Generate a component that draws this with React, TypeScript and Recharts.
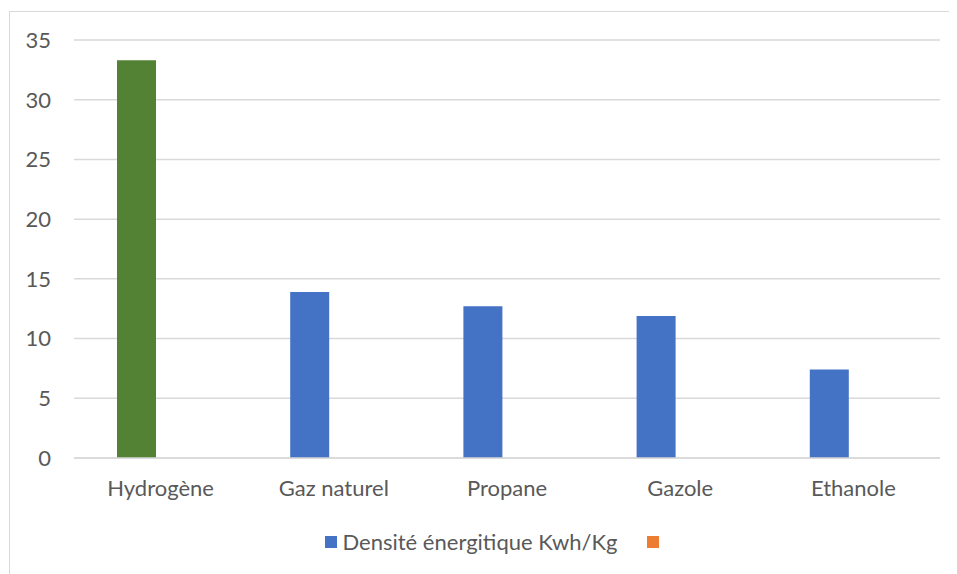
import React from "react";
import { BarChart, Bar, XAxis, YAxis, CartesianGrid, Legend, Cell } from "recharts";

const categories = ["Hydrogène", "Gaz naturel", "Propane", "Gazole", "Ethanole"];
const densite = [33.3, 13.9, 12.7, 11.9, 7.4];
const serie2: (number | null)[] = [null, null, null, null, null];
const yTicks = [0, 5, 10, 15, 20, 25, 30, 35];

const data = categories.map((name, i) => ({ name, densite: densite[i], serie2: serie2[i] }));

const BLUE = "#4472C4";
const GREEN = "#548235";
const ORANGE = "#ED7D31";
const TEXT = "#595959";
const FONT = "Lato, 'Open Sans', sans-serif";

const LegendContent = () => (
  <div
    style={{
      display: "flex",
      justifyContent: "center",
      alignItems: "center",
      fontFamily: FONT,
      fontSize: 22,
      color: TEXT,
      height: 40,
      paddingTop: 7,
      paddingLeft: 34,
      boxSizing: "border-box",
    }}
  >
    <span style={{ width: 12, height: 12, background: BLUE, display: "inline-block", marginRight: 6 }} />
    <span>Densité énergitique Kwh/Kg</span>
    <span style={{ width: 12, height: 12, background: ORANGE, display: "inline-block", marginLeft: 30 }} />
  </div>
);

export default function App() {
  return (
    <div style={{ marginLeft: 1, marginTop: 3, border: "1px solid #d9d9d9", width: 960, height: 580, boxSizing: "border-box" }}>
      <BarChart width={945} height={560} data={data} margin={{ top: 28, right: 15, left: 0, bottom: 14 }} barSize={39} barGap={10}>
        <CartesianGrid vertical={false} stroke="#d9d9d9" strokeWidth={1.5} />
        <XAxis
          dataKey="name"
          axisLine={{ stroke: "#d9d9d9", strokeWidth: 1.5 }}
          tickLine={false}
          tickSize={0}
          tickMargin={22}
          height={60}
          tick={{ fill: TEXT, fontSize: 22, fontFamily: FONT }}
        />
        <YAxis
          domain={[0, 35]}
          ticks={yTicks}
          axisLine={false}
          tickLine={false}
          tickSize={0}
          tickMargin={23}
          width={64}
          tick={{ fill: TEXT, fontSize: 22, fontFamily: FONT }}
        />
        <Legend verticalAlign="bottom" content={<LegendContent />} wrapperStyle={{ height: 40 }} />
        <Bar dataKey="densite" fill={BLUE} isAnimationActive={false}>
          {data.map((d, i) => (
            <Cell key={d.name} fill={i === 0 ? GREEN : BLUE} />
          ))}
        </Bar>
        <Bar dataKey="serie2" fill={ORANGE} isAnimationActive={false} />
      </BarChart>
    </div>
  );
}
